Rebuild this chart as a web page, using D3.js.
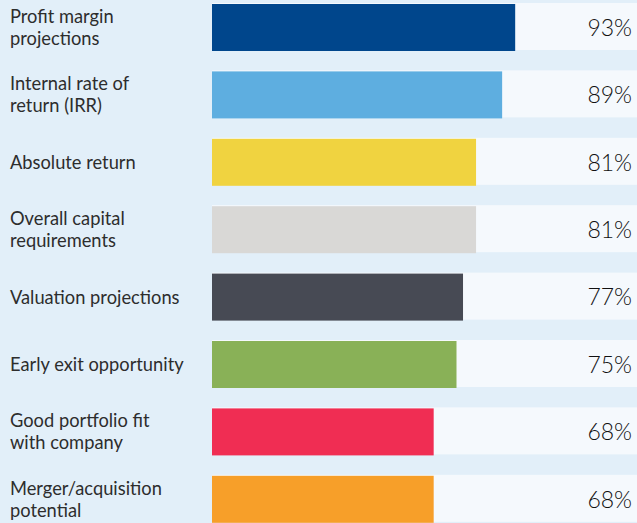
<!DOCTYPE html>
<html lang="en">
	<head>
		<meta charset="utf-8">
		<title>Deal criteria</title>
		<script src="https://d3js.org/d3.v7.min.js"></script>
		<style>
			body { margin: 0; background: #e2eff9; }
			text { font-family: Lato, "Open Sans", sans-serif; fill: #2d2d2d; }
		</style>
	</head>
	<body>
		<script type="text/javascript">

			// data
			var labels = [
				["Profit margin", "projections"],
				["Internal rate of", "return (IRR)"],
				["Absolute return"],
				["Overall capital", "requirements"],
				["Valuation projections"],
				["Early exit opportunity"],
				["Good portfolio fit", "with company"],
				["Merger/acquisition", "potential"]
			];
			var values = [93, 89, 81, 81, 77, 75, 68, 68];
			var colors = ["#00468c", "#5eaee0", "#f0d340", "#d9d8d6", "#474a54", "#89b157", "#f02d53", "#f79f29"];

			var w = 637;
			var h = 523;
			var barLeft = 212;
			var step = 67.4;
			var gap = 20.4;

			var svg = d3.select("body").append("svg").attr("width", w).attr("height", h);

			var idx = d3.range(values.length);

			//    Scales
			var yScale = d3.scaleBand()
				.domain(idx)
				.range([4, 4 + step * values.length - gap])
				.paddingInner(gap / step)
				.paddingOuter(0);

			var xScale = d3.scaleLinear()
				.domain([0, 100])
				.range([barLeft, barLeft + 326]);

			//    Row backgrounds
			svg.selectAll("rect.row")
				.data(idx)
				.enter()
				.append("rect")
				.attr("class", "row")
				.attr("x", barLeft)
				.attr("y", function(d) { return yScale(d) - 1; })
				.attr("width", w - barLeft)
				.attr("height", yScale.bandwidth())
				.attr("fill", "#f5f9fd");

			//    Bars
			svg.selectAll("rect.bar")
				.data(idx)
				.enter()
				.append("rect")
				.attr("class", "bar")
				.attr("x", xScale(0))
				.attr("y", function(d) { return yScale(d); })
				.attr("width", function(d) { return xScale(values[d]) - xScale(0); })
				.attr("height", yScale.bandwidth())
				.attr("fill", function(d) { return colors[d]; });

			//    Value labels
			svg.selectAll("text.val")
				.data(idx)
				.enter()
				.append("text")
				.attr("class", "val")
				.attr("x", 632)
				.attr("y", function(d) { return yScale(d) + yScale.bandwidth() / 2; })
				.attr("dy", "0.36em")
				.attr("text-anchor", "end")
				.style("font-size", "23px")
				.style("font-weight", "300")
				.style("fill", "#111")
				.text(function(d) { return values[d] + "%"; });

			//    Category labels
			var lab = svg.selectAll("text.lab")
				.data(idx)
				.enter()
				.append("text")
				.attr("class", "lab")
				.attr("x", 10)
				.attr("y", function(d) { return yScale(d) + yScale.bandwidth() / 2; })
				.style("font-size", "18.3px");

			lab.each(function(d) {
				var lines = labels[d];
				var el = d3.select(this);
				var start = -(lines.length - 1) * 22 / 2;
				lines.forEach(function(line, i) {
					el.append("tspan")
						.attr("x", 10)
						.attr("dy", i === 0 ? (start / 18.3 + 0.36) + "em" : "22px")
						.text(line);
				});
			});

		</script>
	</body>
</html>
